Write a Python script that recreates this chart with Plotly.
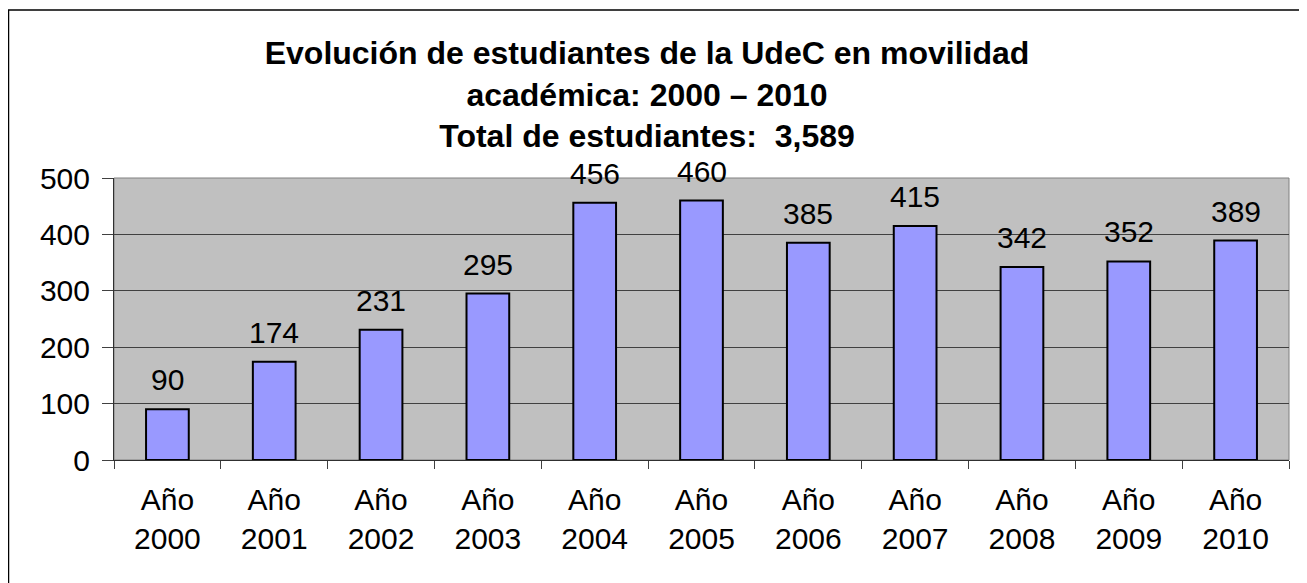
import plotly.graph_objects as go

categories = ["Año<br>2000", "Año<br>2001", "Año<br>2002", "Año<br>2003", "Año<br>2004",
              "Año<br>2005", "Año<br>2006", "Año<br>2007", "Año<br>2008", "Año<br>2009", "Año<br>2010"]
students = [90, 174, 231, 295, 456, 460, 385, 415, 342, 352, 389]
y_ticks = [0, 100, 200, 300, 400, 500]
title_lines = ["Evolución de estudiantes de la UdeC en movilidad",
               "académica: 2000 – 2010",
               "Total de estudiantes:  3,589"]

OFF = 8  # page body margin
W, H = 1307 - OFF, 583 - OFF
L, R, T, B = 114 - OFF, 1289 - OFF, 178 - OFF, 460 - OFF

FONT = "Liberation Sans, Arial, sans-serif"

fig = go.Figure()
fig.add_trace(go.Bar(
    x=categories, y=students,
    marker=dict(color="#9999FF", line=dict(color="black", width=2)),
    hoverinfo="x+y",
))

for c, v in zip(categories, students):
    fig.add_annotation(x=c, y=v, text=str(v), showarrow=False, yanchor="bottom",
                       yshift=11, font=dict(family=FONT, size=30, color="black"))

fig.update_layout(
    width=W, height=H,
    margin=dict(l=L, r=W - R, t=T, b=H - B, pad=0),
    paper_bgcolor="white",
    plot_bgcolor="#C0C0C0",
    bargap=0.6,
    showlegend=False,
    font=dict(family=FONT, size=30, color="black"),
    title=dict(text="<br>".join(title_lines), x=(647 - OFF) / W, xref="container", xanchor="center",
               y=1 - 56 / H, yref="container", yanchor="top",
               font=dict(family=FONT, size=32, color="black", weight="bold")),
)

fig.update_yaxes(range=[0, 500], tickvals=y_ticks, showgrid=True, gridcolor="#404040", gridwidth=1,
                 ticks="outside", ticklen=11, tickcolor="#404040", showline=True,
                 linecolor="#303030", linewidth=1, zeroline=False, fixedrange=True,
                 tickfont=dict(family=FONT, size=30, color="black"), ticklabelstandoff=6)
fig.update_xaxes(tickson="boundaries", ticks="outside", ticklen=8, tickcolor="#404040",
                 showline=True, linecolor="#303030", linewidth=1, showgrid=False,
                 tickfont=dict(family=FONT, size=30, color="black"), ticklabelstandoff=13,
                 fixedrange=True)

# plot-area border (top / right in gray)
fig.add_shape(type="rect", xref="paper", yref="paper", x0=0, x1=1, y0=0, y1=1,
              line=dict(color="#808080", width=1), layer="below")
# outer chart border (cropped at right/bottom)
fig.add_shape(type="rect", xref="paper", yref="paper",
              x0=(8.5 - OFF - L) / (R - L), x1=(W + 20 - L) / (R - L),
              y0=(B - (H + 20)) / (B - T), y1=(B - (10 - OFF)) / (B - T),
              line=dict(color="black", width=1.5))

fig.write_html("out.html")
